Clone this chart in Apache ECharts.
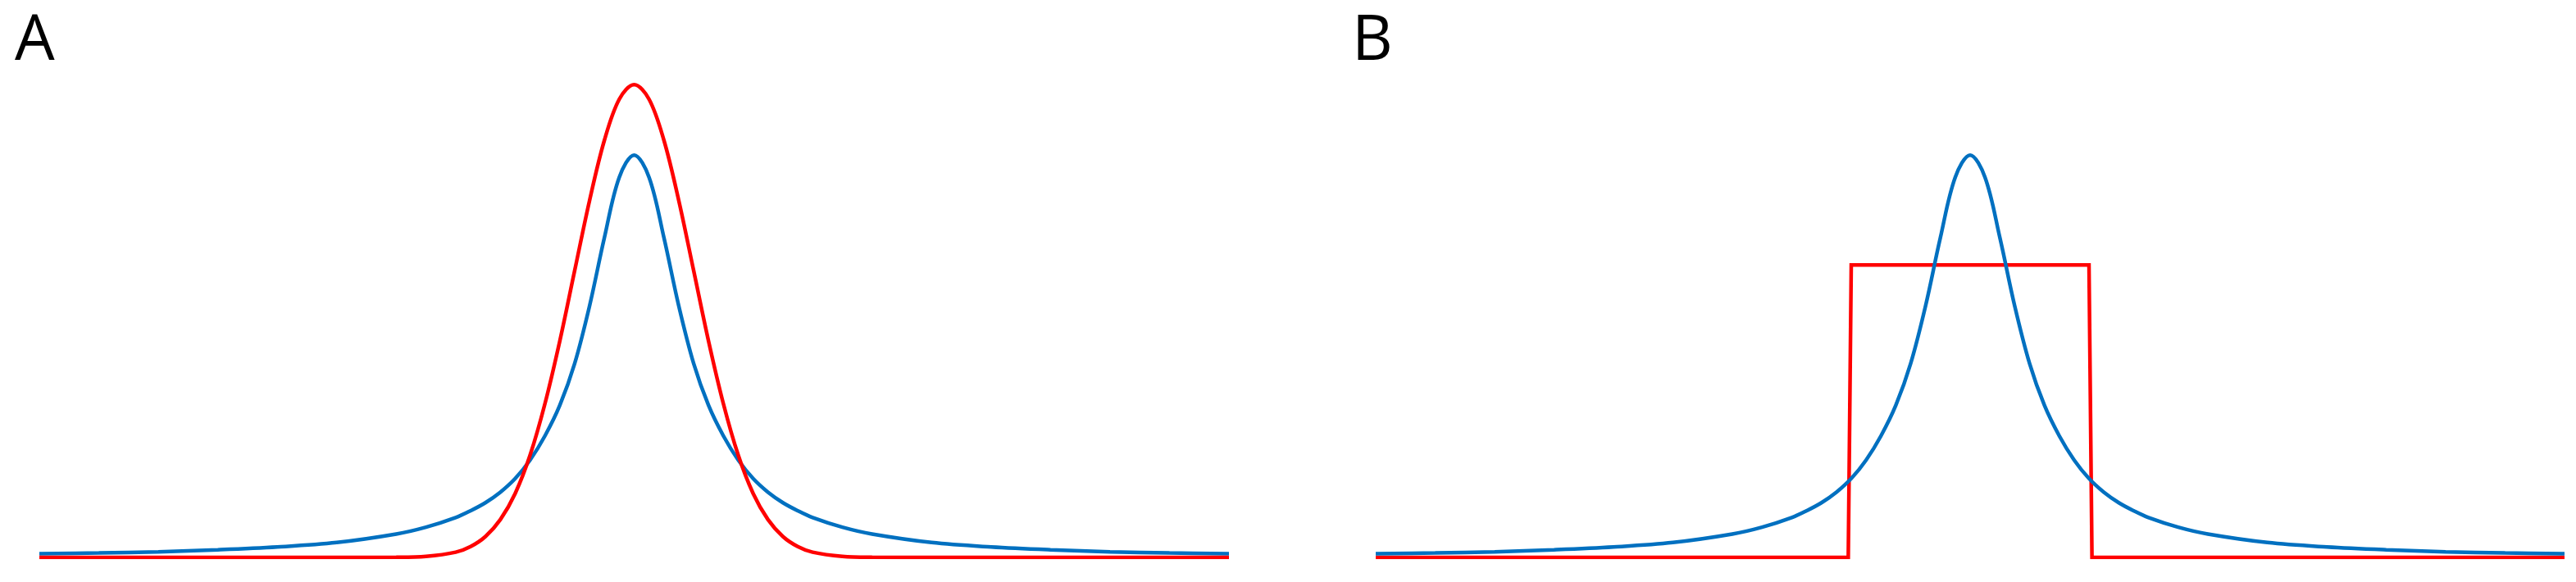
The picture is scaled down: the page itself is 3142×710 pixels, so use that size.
<!DOCTYPE html>
<html>
<head>
<meta charset="utf-8">
<script src="https://cdn.jsdelivr.net/npm/echarts@6/dist/echarts.min.js"></script>
<style>
  html, body { margin: 0; padding: 0; background: #fff; }
  #chart { width: 3142px; height: 710px; }
</style>
</head>
<body>
<div id="chart"></div>
<script>
// x positions shared by the smooth curves (centre dense, tails sparse)
const xs = [-10, -9, -8, -7, -6, -5, -4, -3.5, -3, -2.75, -2.5, -2.25, -2, -1.75, -1.5, -1.25, -1, -0.75, -0.5, -0.25,
  0, 0.25, 0.5, 0.75, 1, 1.25, 1.5, 1.75, 2, 2.25, 2.5, 2.75, 3, 3.5, 4, 5, 6, 7, 8, 9, 10];

// blue peak (same in both panels), peak = 1
const bluePeak = [0.009, 0.011, 0.014, 0.019, 0.026, 0.037, 0.058, 0.075, 0.099, 0.116, 0.136, 0.162, 0.196, 0.242, 0.302, 0.378, 0.482, 0.625, 0.795, 0.945,
  1.000, 0.945, 0.795, 0.625, 0.482, 0.378, 0.302, 0.242, 0.196, 0.162, 0.136, 0.116, 0.099, 0.075, 0.058, 0.037, 0.026, 0.019, 0.014, 0.011, 0.009];

// red peak in panel A (taller, narrower tails)
const redPeak = [0, 0, 0, 0, 0, 0, 0.0004, 0.0026, 0.013, 0.027, 0.052, 0.094, 0.159, 0.254, 0.382, 0.538, 0.713, 0.887, 1.037, 1.139,
  1.175, 1.139, 1.037, 0.887, 0.713, 0.538, 0.382, 0.254, 0.159, 0.094, 0.052, 0.027, 0.013, 0.0026, 0.0004, 0, 0, 0, 0, 0, 0];

// red box in panel B
const boxX = [-10, -2.05, -2, 2, 2.05, 10];
const boxY = [0, 0, 0.727, 0.727, 0, 0];

const panelLabels = ["A", "B"];

const RED = "#ff0000";
const BLUE = "#0070c0";

function pairs(x, y) {
  return x.map((v, i) => [v, y[i]]);
}

const chart = echarts.init(document.getElementById("chart"));

const axisX = (i) => ({ type: "value", gridIndex: i, min: -10, max: 10, show: false });
const axisY = (i) => ({ type: "value", gridIndex: i, min: 0, max: 1.2, show: false });

const labelStyle = { fontFamily: "Open Sans", fontSize: 77, fontWeight: "normal", color: "#000" };

chart.setOption({
  backgroundColor: "#fff",
  animation: false,
  title: [
    { text: panelLabels[0], left: 13, top: 8, textStyle: labelStyle },
    { text: panelLabels[1], left: 1644, top: 8, textStyle: labelStyle },
  ],
  grid: [
    { left: 48, right: 1643, top: 91, bottom: 30 },
    { left: 1678, right: 14, top: 91, bottom: 30 },
  ],
  xAxis: [axisX(0), axisX(1)],
  yAxis: [axisY(0), axisY(1)],
  series: [
    // panel A: red drawn over blue
    {
      type: "line", xAxisIndex: 0, yAxisIndex: 0, data: pairs(xs, bluePeak),
      smooth: 0.35, showSymbol: false,
      lineStyle: { color: BLUE, width: 4.5 },
    },
    {
      type: "line", xAxisIndex: 0, yAxisIndex: 0, data: pairs(xs, redPeak),
      smooth: 0.35, showSymbol: false,
      lineStyle: { color: RED, width: 4.5 },
    },
    // panel B: blue drawn over the red box
    {
      type: "line", xAxisIndex: 1, yAxisIndex: 1, data: pairs(boxX, boxY),
      showSymbol: false,
      lineStyle: { color: RED, width: 4.5, join: "miter" },
    },
    {
      type: "line", xAxisIndex: 1, yAxisIndex: 1, data: pairs(xs, bluePeak),
      smooth: 0.35, showSymbol: false,
      lineStyle: { color: BLUE, width: 4.5 },
    },
  ],
});
</script>
</body>
</html>
